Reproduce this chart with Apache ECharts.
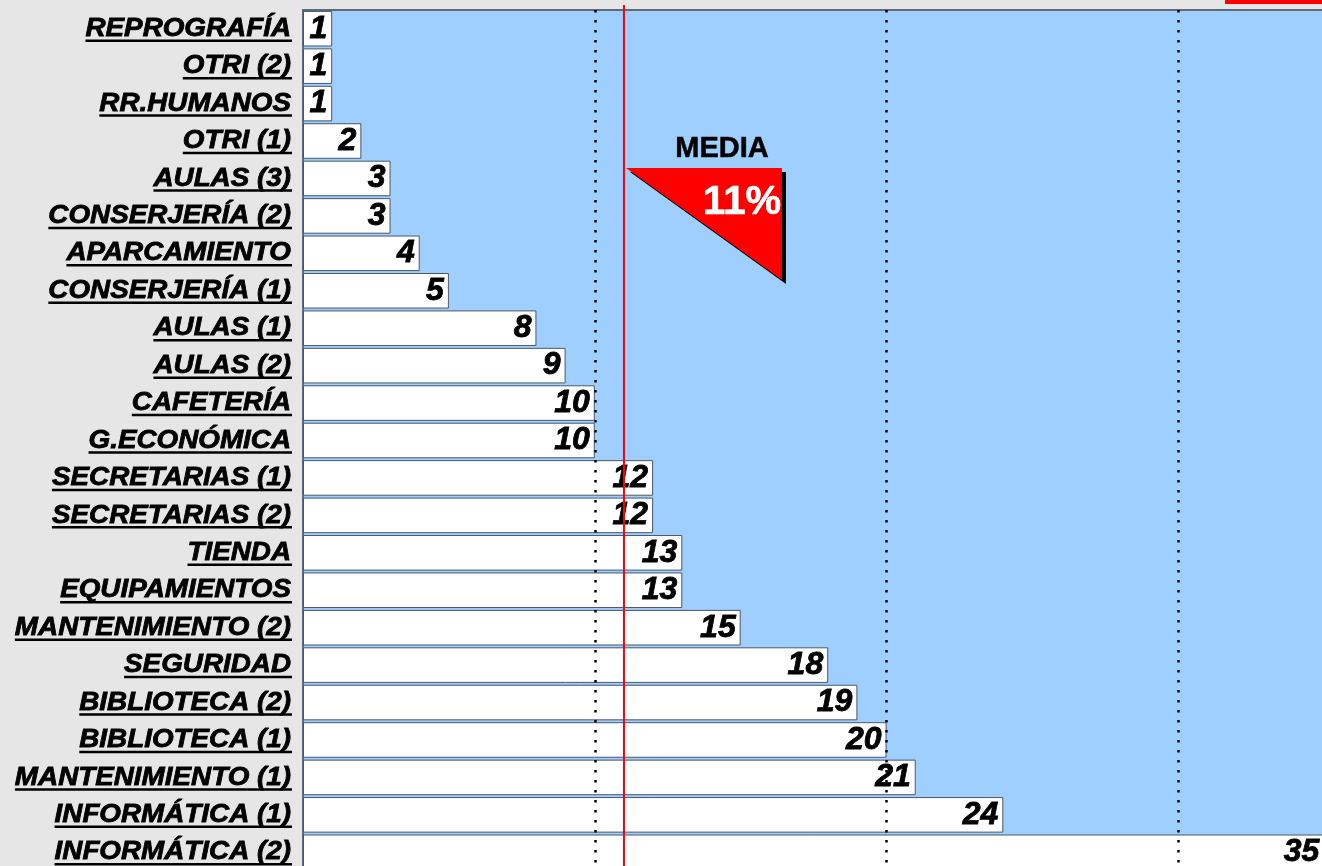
<!DOCTYPE html>
<html>
<head>
<meta charset="utf-8">
<script src="https://cdn.jsdelivr.net/npm/echarts@6/dist/echarts.min.js"></script>
<style>
html,body{margin:0;padding:0;background:#e6e6e6;overflow:hidden;}
#main{width:1345px;height:885px;}
</style>
</head>
<body>
<div id="main"></div>
<script>
// datos (de arriba a abajo)
var categories = ['REPROGRAFÍA','OTRI (2)','RR.HUMANOS','OTRI (1)','AULAS (3)','CONSERJERÍA (2)',
  'APARCAMIENTO','CONSERJERÍA (1)','AULAS (1)','AULAS (2)','CAFETERÍA','G.ECONÓMICA',
  'SECRETARIAS (1)','SECRETARIAS (2)','TIENDA','EQUIPAMIENTOS','MANTENIMIENTO (2)','SEGURIDAD',
  'BIBLIOTECA (2)','BIBLIOTECA (1)','MANTENIMIENTO (1)','INFORMÁTICA (1)','INFORMÁTICA (2)'];
var values = [1,1,1,2,3,3,4,5,8,9,10,10,12,12,13,13,15,18,19,20,21,24,35];
var gridValues = [10,20,30];
var mediaValue = 11;
var mediaTitle = 'MEDIA';
var mediaText = '11%';

var fontFam = '"Liberation Sans", Arial, sans-serif';
var chart = echarts.init(document.getElementById('main'));

var option = {
  backgroundColor: '#e6e6e6',
  animation: false,
  grid: {
    left: 303, top: 10, width: 1030, height: 861,
    show: true, backgroundColor: '#9fcfff',
    borderColor: '#5d6b79', borderWidth: 2
  },
  xAxis: {
    type: 'value', min: 0, max: 35.3,
    axisLine: {show: false}, axisTick: {show: false},
    axisLabel: {show: false}, splitLine: {show: false}
  },
  yAxis: {
    type: 'category', inverse: true, data: categories,
    axisLine: {show: false}, axisTick: {show: false},
    axisLabel: {show: false}
  },
  series: [{
    type: 'bar',
    data: values,
    barCategoryGap: '5%',
    itemStyle: {color: '#ffffff', borderColor: '#4a5868', borderWidth: 1},
    label: {
      show: true, position: 'insideRight', distance: 5,
      fontStyle: 'italic', fontWeight: 'bold', fontSize: 32,
      fontFamily: fontFam, color: '#000',
      textBorderColor: '#000', textBorderWidth: 0.8
    },
    markLine: {
      silent: true, symbol: ['none','none'],
      label: {show: false},
      lineStyle: {type: [2.5, 7.5], color: '#000', width: 2.5},
      data: gridValues.map(function(v){ return {xAxis: v}; })
    }
  }]
};
chart.setOption(option);

// etiquetas del eje (texto ensanchado y subrayado)
var ctx = document.createElement('canvas').getContext('2d');
var lblFont = 'italic bold 26px ' + fontFam;
ctx.font = lblFont;
var stretch = 1.07;
var labelRight = 291;
var graphics = [];
for (var i = 0; i < categories.length; i++) {
  var cy = chart.convertToPixel({yAxisIndex: 0}, i);
  var w = ctx.measureText(categories[i]).width * stretch;
  graphics.push({
    type: 'text', x: labelRight, y: cy, scaleX: stretch,
    style: {text: categories[i], font: lblFont, fill: '#000',
      stroke: '#000', lineWidth: 0.8,
      textAlign: 'right', textVerticalAlign: 'middle'}
  });
  graphics.push({
    type: 'line',
    shape: {x1: labelRight - w, y1: cy + 12, x2: labelRight + 1, y2: cy + 12},
    style: {stroke: '#000', lineWidth: 2.5}
  });
}

// linea de la media y triangulo
var mx = chart.convertToPixel({xAxisIndex: 0}, mediaValue);
graphics.push({
  type: 'line', z: 100,
  shape: {x1: mx, y1: 5, x2: mx, y2: 880},
  style: {stroke: '#ff0000', lineWidth: 2}
});
graphics.push({
  type: 'polygon', z: 90,
  shape: {points: [[mx + 6, 172], [mx + 162, 172], [mx + 162, 284]]},
  style: {fill: '#000'}
});
graphics.push({
  type: 'polygon', z: 91,
  shape: {points: [[mx + 2, 168], [mx + 158, 168], [mx + 158, 280]]},
  style: {fill: '#ff0000'}
});
graphics.push({
  type: 'text', z: 92, x: mx + 98, y: 163,
  style: {text: mediaTitle, font: 'bold 29px ' + fontFam, fill: '#000',
    stroke: '#000', lineWidth: 0.5,
    textAlign: 'center', textVerticalAlign: 'bottom'}
});
graphics.push({
  type: 'text', z: 92, x: mx + 157, y: 203,
  style: {text: mediaText, font: 'bold 40px ' + fontFam, fill: '#fff',
    stroke: '#fff', lineWidth: 0.6,
    textAlign: 'right', textVerticalAlign: 'middle'}
});
// marca roja superior
graphics.push({
  type: 'rect', shape: {x: 1225, y: 0, width: 97, height: 4},
  style: {fill: '#ff0000'}
});

chart.setOption({graphic: graphics});
</script>
</body>
</html>
